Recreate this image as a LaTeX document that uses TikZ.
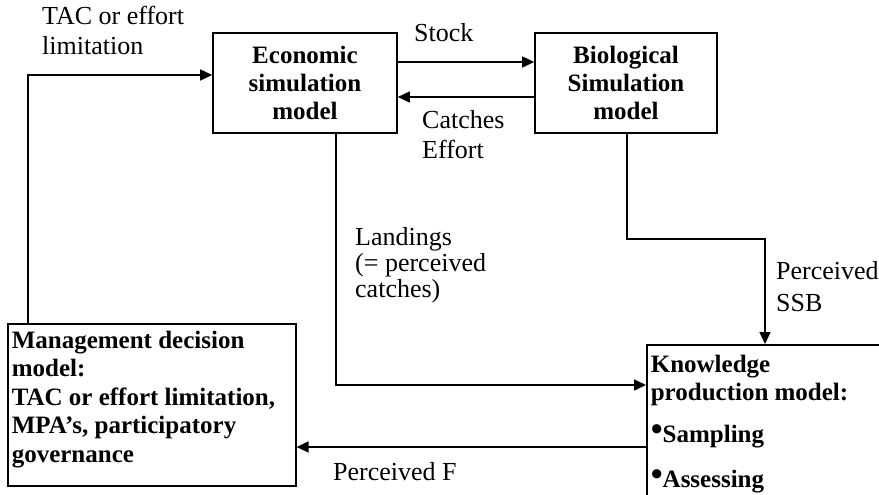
\documentclass[tikz,border=0pt]{standalone}
\usepackage{fontspec}
\setmainfont{Liberation Serif}
\usetikzlibrary{arrows.meta}
\usetikzlibrary{positioning}
\tikzstyle{modelbox} = [draw, line width=1.6pt, rectangle, font=\bfseries\fontsize{25}{28}\selectfont, align=center]
\tikzstyle{infobox} = [draw, line width=1.6pt, rectangle, font=\bfseries\fontsize{25}{28}\selectfont, align=left, inner sep=4pt]
\tikzstyle{flowlabel} = [font=\fontsize{26}{30}\selectfont, align=left, inner sep=0pt]
\tikzstyle{flow} = [line width=1.6pt, -{Triangle[length=12pt,width=11pt]}]
\newcommand{\bulletitem}{{\fontsize{34}{28}\selectfont\raisebox{2pt}{\textbullet}}}

\begin{document}
\begin{tikzpicture}[x=1pt, y=-1pt]
  \useasboundingbox (0,0) rectangle (879,495);
  \clip (0,0) rectangle (879,495);

  \node[modelbox, minimum width=184, minimum height=100] (econ) at (305,83) {Economic\\simulation\\model};
  \node[modelbox, minimum width=182, minimum height=100] (bio) at (626,83) {Biological\\Simulation\\model};

  \node[infobox, anchor=north west, minimum width=288, minimum height=162] (mgmt) at (7,323) {};
  \node[infobox, draw=none, anchor=north west, font=\bfseries\fontsize{25}{28.5}\selectfont] (mgmtt) at (7,326)
    {Management decision\\model:\\TAC or effort limitation,\\MPA's, participatory\\governance};
  \node[infobox, anchor=north west, minimum width=260, minimum height=156] (know) at (646,344) {};
  \node[infobox, draw=none, anchor=north west] (knowt) at (646,350)
    {Knowledge\\production model:\\[14pt]\bulletitem Sampling\\[17pt]\bulletitem Assessing};

  % turning points of the connectors
  \coordinate (tac) at (28,75);
  \coordinate (land) at (336,385);
  \coordinate (ssb) at (627,239);
  \coordinate (ssbturn) at (765,239);
  \coordinate (pf) at (470,447);

  \draw[flow] (mgmt.north -| tac) -- (tac) -- (tac -| econ.west);
  \draw[flow] ([yshift=21pt]econ.east) -- ([yshift=21pt]bio.west);
  \draw[flow] ([yshift=-14pt]bio.west) -- ([yshift=-14pt]econ.east);
  \draw[flow] (econ.south -| land) -- (land) -- (land -| know.west);
  \draw[flow] (bio.south -| ssb) -- (ssb) -- (ssbturn) -- (ssbturn |- know.north);
  \draw[flow] (know.west |- pf) -- (mgmt.east |- pf);

  \node[flowlabel, anchor=north west] (tacl) at (42,6) {TAC or effort\\limitation};
  \node[flowlabel, anchor=west] (stockl) at (414,33) {Stock};
  \node[flowlabel, anchor=north west] (catchl) at (422,110) {Catches\\Effort};
  \node[flowlabel, anchor=north west, font=\fontsize{26}{26}\selectfont] (landl) at (355,227) {Landings\\(= perceived\\catches)};
  \node[flowlabel, anchor=north west, font=\fontsize{26}{32}\selectfont] (ssbl) at (776,261) {Perceived\\SSB};
  \node[flowlabel, anchor=west] (pfl) at (333,472) {Perceived F};
\end{tikzpicture}
\end{document}
